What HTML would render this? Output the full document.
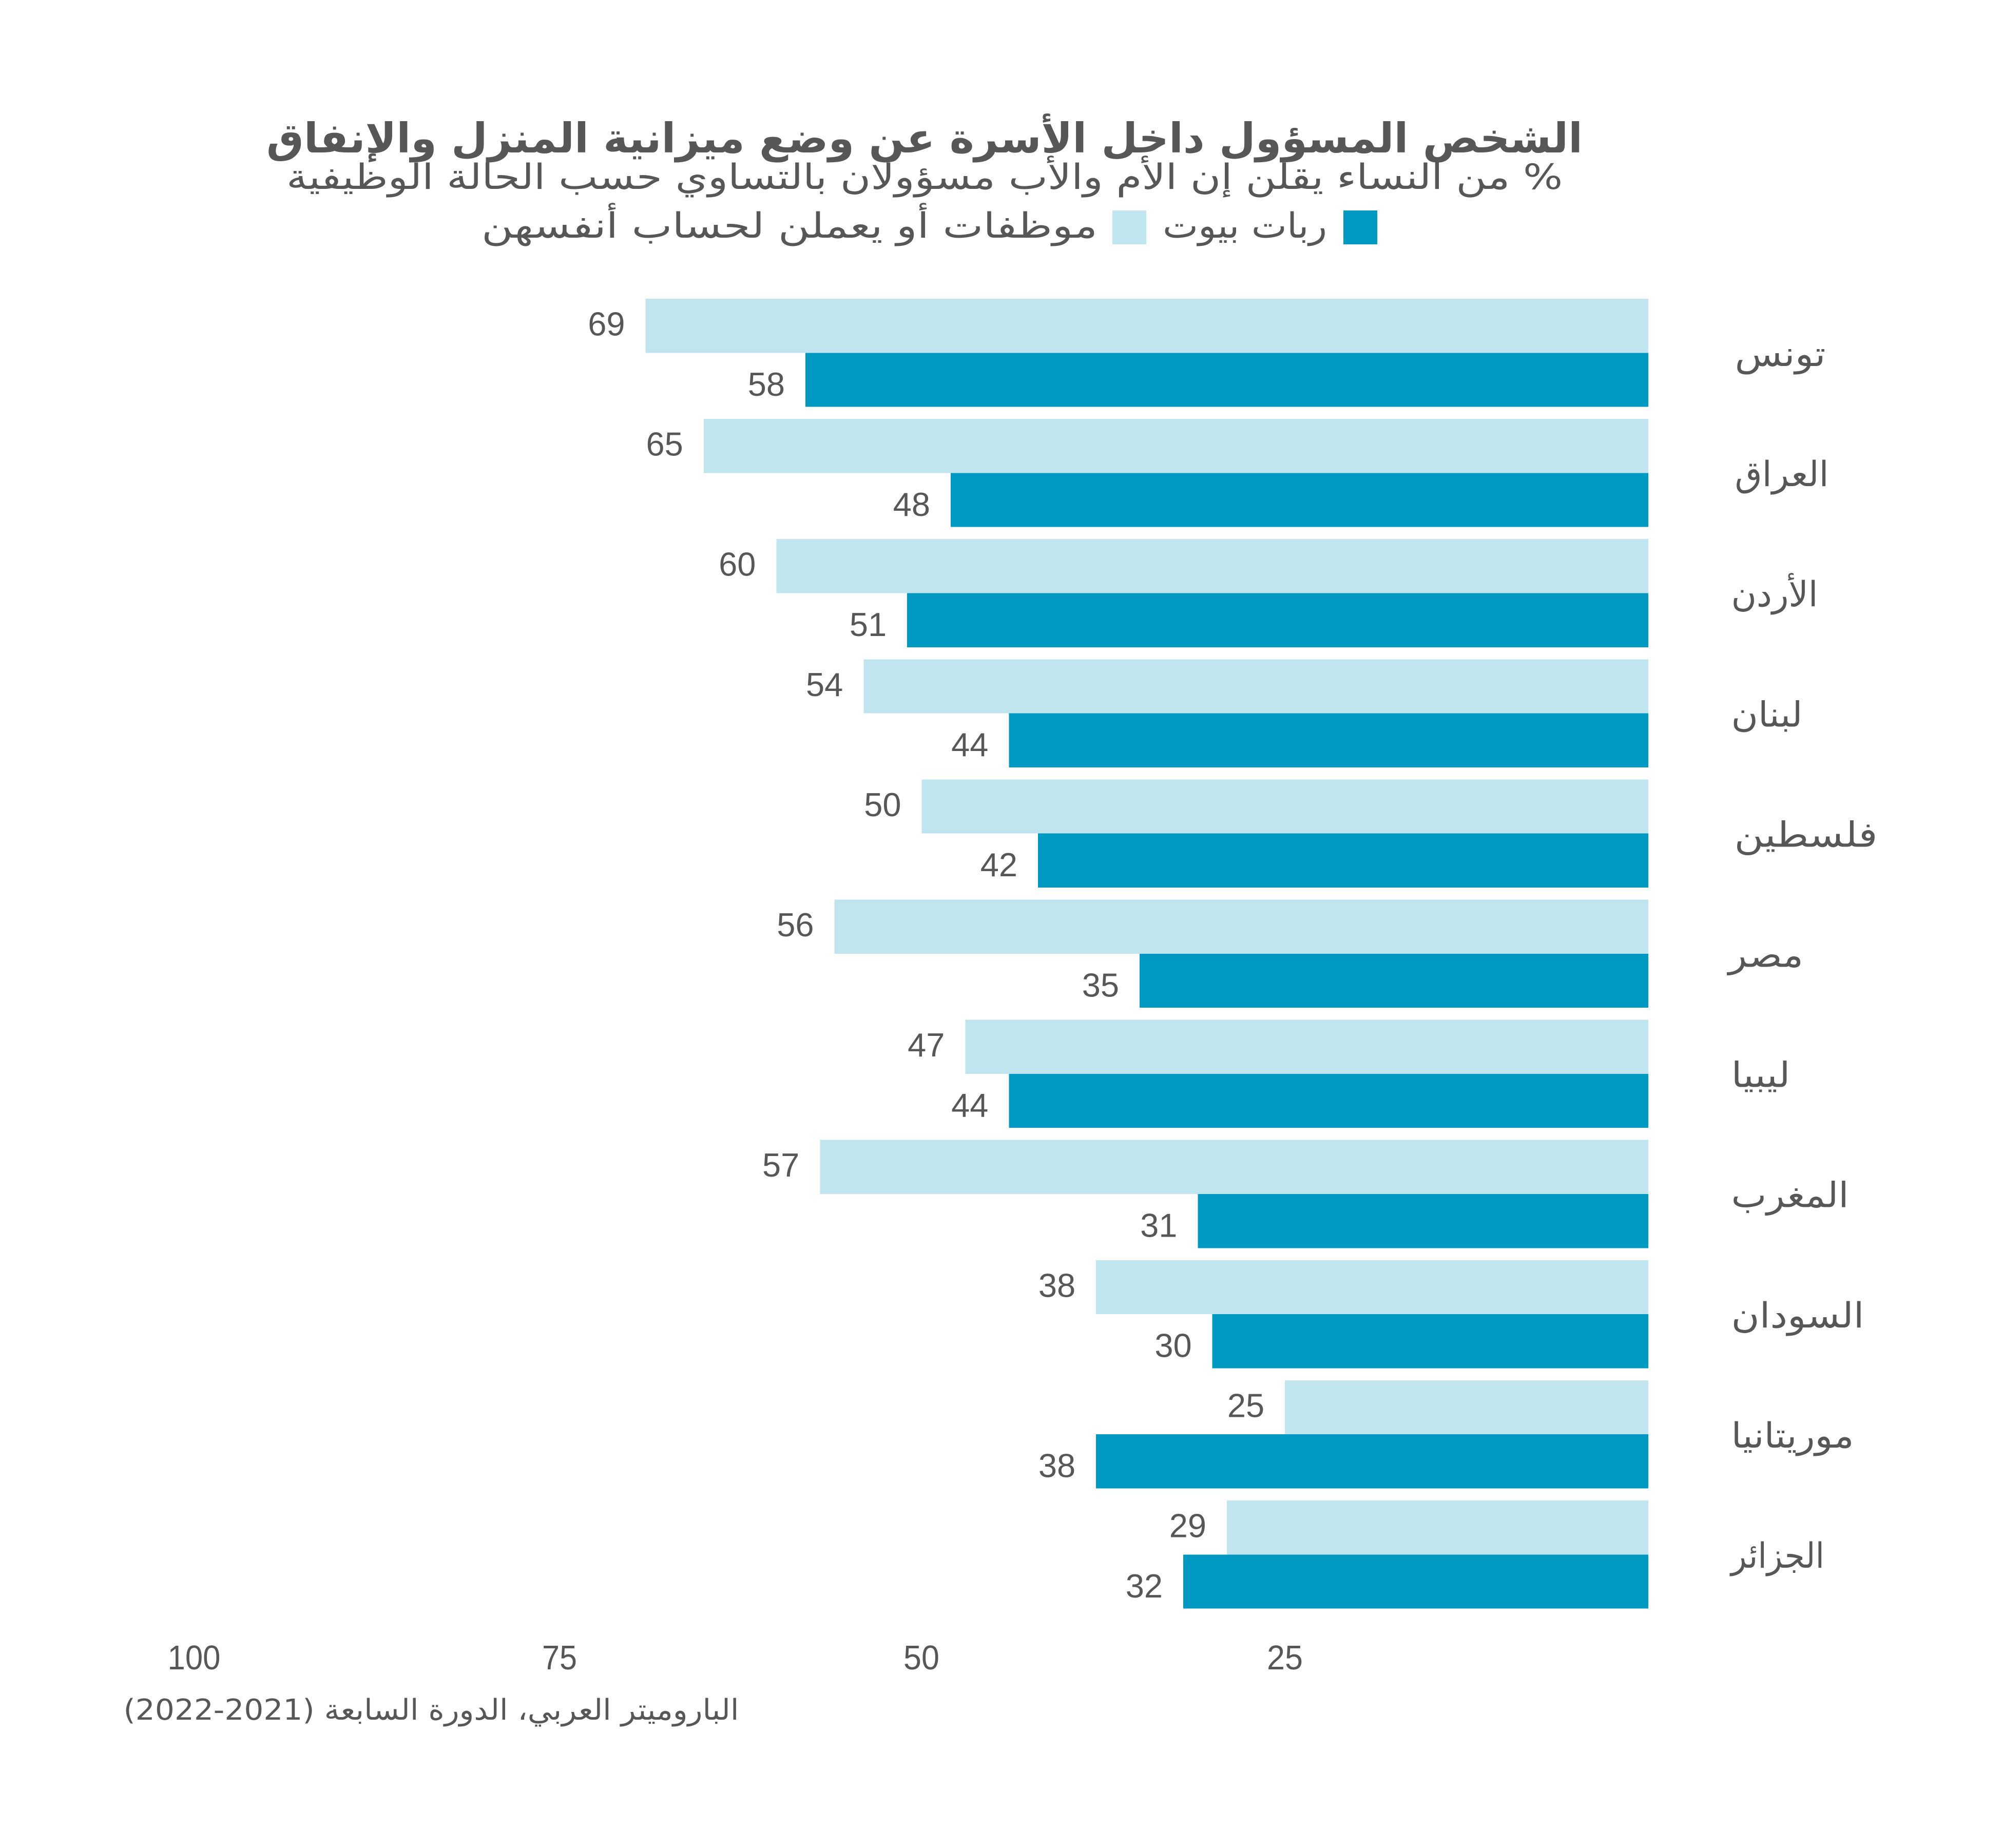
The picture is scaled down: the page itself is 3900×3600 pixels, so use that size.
<!DOCTYPE html>
<html><head><meta charset="utf-8"><style>
html,body{margin:0;padding:0;background:#fff;}
svg{display:block;}
.ar{font-family:"DejaVu Sans","Liberation Sans",sans-serif;fill:#575757;}
.num{font-family:"Liberation Sans","DejaVu Sans",sans-serif;fill:#575757;}
</style></head><body>
<svg xmlns="http://www.w3.org/2000/svg" width="3900" height="3600" viewBox="0 0 3900 3600">
<rect width="3900" height="3600" fill="#fff"/>
<text class="ar" x="1801" y="297" font-size="80" font-weight="bold" text-anchor="middle" direction="rtl" textLength="2564" lengthAdjust="spacingAndGlyphs">الشخص المسؤول داخل الأسرة عن وضع ميزانية المنزل والإنفاق</text>
<text class="ar" x="1801" y="368" font-size="68" text-anchor="middle" direction="rtl" textLength="2486" lengthAdjust="spacingAndGlyphs">% من النساء يقلن إن الأم والأب مسؤولان بالتساوي حسب الحالة الوظيفية</text>
<rect x="2617" y="410" width="66" height="66" fill="#0099c1"/>
<text class="ar" x="2425" y="463" font-size="68" text-anchor="middle" direction="rtl" textLength="320" lengthAdjust="spacingAndGlyphs">ربات بيوت</text>
<rect x="2167" y="410" width="66" height="66" fill="#c1e5ee"/>
<text class="ar" x="1538" y="463" font-size="68" text-anchor="middle" direction="rtl" textLength="1200" lengthAdjust="spacingAndGlyphs">موظفات أو يعملن لحساب أنفسهن</text>
<g shape-rendering="crispEdges">
<rect x="1257.6" y="582" width="1953.4" height="105.3" fill="#c1e5ee"/>
<rect x="1569.0" y="687.3" width="1642.0" height="105.3" fill="#0099c1"/>
<rect x="1370.8" y="816.1" width="1840.2" height="105.3" fill="#c1e5ee"/>
<rect x="1852.1" y="921.4" width="1358.9" height="105.3" fill="#0099c1"/>
<rect x="1512.4" y="1050.2" width="1698.6" height="105.3" fill="#c1e5ee"/>
<rect x="1767.2" y="1155.5" width="1443.8" height="105.3" fill="#0099c1"/>
<rect x="1682.3" y="1284.3" width="1528.7" height="105.3" fill="#c1e5ee"/>
<rect x="1965.4" y="1389.6" width="1245.6" height="105.3" fill="#0099c1"/>
<rect x="1795.5" y="1518.4" width="1415.5" height="105.3" fill="#c1e5ee"/>
<rect x="2022.0" y="1623.7" width="1189.0" height="105.3" fill="#0099c1"/>
<rect x="1625.6" y="1752.5" width="1585.4" height="105.3" fill="#c1e5ee"/>
<rect x="2220.1" y="1857.8" width="990.9" height="105.3" fill="#0099c1"/>
<rect x="1880.4" y="1986.6" width="1330.6" height="105.3" fill="#c1e5ee"/>
<rect x="1965.4" y="2091.9" width="1245.6" height="105.3" fill="#0099c1"/>
<rect x="1597.3" y="2220.7" width="1613.7" height="105.3" fill="#c1e5ee"/>
<rect x="2333.4" y="2326.0" width="877.6" height="105.3" fill="#0099c1"/>
<rect x="2135.2" y="2454.8" width="1075.8" height="105.3" fill="#c1e5ee"/>
<rect x="2361.7" y="2560.1" width="849.3" height="105.3" fill="#0099c1"/>
<rect x="2503.2" y="2688.9" width="707.8" height="105.3" fill="#c1e5ee"/>
<rect x="2135.2" y="2794.2" width="1075.8" height="105.3" fill="#0099c1"/>
<rect x="2390.0" y="2923.0" width="821.0" height="105.3" fill="#c1e5ee"/>
<rect x="2305.1" y="3028.3" width="905.9" height="105.3" fill="#0099c1"/>
</g>
<g class="num" font-size="65" text-anchor="end">
<text x="1217.6" y="653.5">69</text>
<text x="1529.0" y="770.8">58</text>
<text x="1330.8" y="887.6">65</text>
<text x="1812.1" y="1004.9">48</text>
<text x="1472.4" y="1121.7">60</text>
<text x="1727.2" y="1239.0">51</text>
<text x="1642.3" y="1355.8">54</text>
<text x="1925.4" y="1473.1">44</text>
<text x="1755.5" y="1589.9">50</text>
<text x="1982.0" y="1707.2">42</text>
<text x="1585.6" y="1824.0">56</text>
<text x="2180.1" y="1941.3">35</text>
<text x="1840.4" y="2058.1">47</text>
<text x="1925.4" y="2175.4">44</text>
<text x="1557.3" y="2292.2">57</text>
<text x="2293.4" y="2409.5">31</text>
<text x="2095.2" y="2526.3">38</text>
<text x="2321.7" y="2643.6">30</text>
<text x="2463.2" y="2760.4">25</text>
<text x="2095.2" y="2877.7">38</text>
<text x="2350.0" y="2994.5">29</text>
<text x="2265.1" y="3111.8">32</text>
</g>
<g class="ar" font-size="68" text-anchor="middle" direction="rtl">
<text x="3468" y="713" textLength="177" lengthAdjust="spacingAndGlyphs">تونس</text>
<text x="3471" y="947.1" textLength="183" lengthAdjust="spacingAndGlyphs">العراق</text>
<text x="3457" y="1181.2" textLength="169" lengthAdjust="spacingAndGlyphs">الأردن</text>
<text x="3442" y="1415.3" textLength="139" lengthAdjust="spacingAndGlyphs">لبنان</text>
<text x="3518" y="1649.4" textLength="279" lengthAdjust="spacingAndGlyphs">فلسطين</text>
<text x="3440" y="1883.5" textLength="146" lengthAdjust="spacingAndGlyphs">مصر</text>
<text x="3430" y="2117.6" textLength="115" lengthAdjust="spacingAndGlyphs">ليبيا</text>
<text x="3487" y="2351.7" textLength="229" lengthAdjust="spacingAndGlyphs">المغرب</text>
<text x="3502" y="2585.8" textLength="259" lengthAdjust="spacingAndGlyphs">السودان</text>
<text x="3492" y="2819.9" textLength="239" lengthAdjust="spacingAndGlyphs">موريتانيا</text>
<text x="3463" y="3054" textLength="182" lengthAdjust="spacingAndGlyphs">الجزائر</text>
</g>
<g class="num" font-size="67" text-anchor="middle">
<text x="378" y="3252" textLength="103" lengthAdjust="spacingAndGlyphs">100</text>
<text x="1090" y="3252" textLength="68" lengthAdjust="spacingAndGlyphs">75</text>
<text x="1795" y="3252" textLength="70" lengthAdjust="spacingAndGlyphs">50</text>
<text x="2503" y="3252" textLength="70" lengthAdjust="spacingAndGlyphs">25</text>
</g>
<text class="ar" x="840" y="3350" font-size="56" text-anchor="middle" direction="rtl" textLength="1199" lengthAdjust="spacingAndGlyphs">البارومیتر العربي، الدورة السابعة (2021-2022)</text>
</svg>
</body></html>
